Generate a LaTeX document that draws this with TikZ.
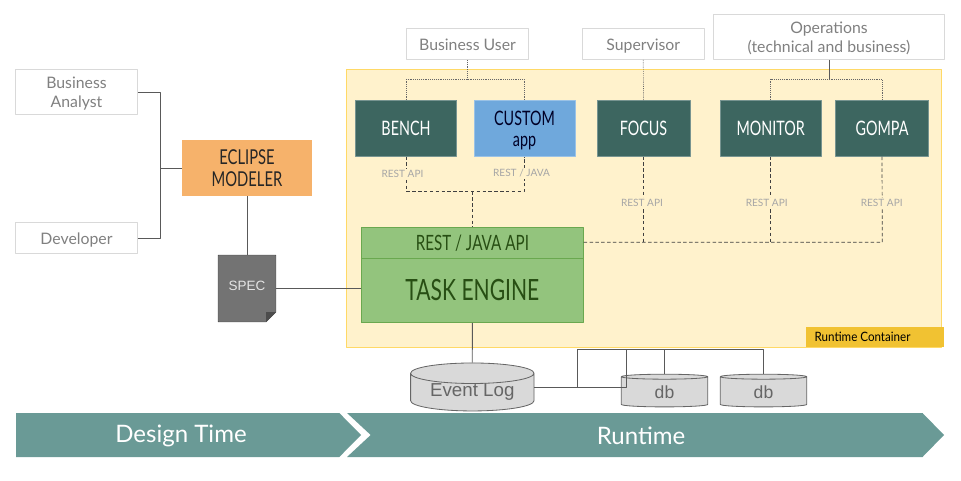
\documentclass[tikz,border=0pt]{standalone}
\usepackage{fontspec}
\usetikzlibrary{shapes.geometric}
\setmainfont{Lato}
\newfontfamily\condfont[FakeStretch=0.72]{Lato}
\newfontfamily\tagfont[FakeStretch=0.9]{Lato}
\newfontfamily\helvfont{Liberation Sans}
\definecolor{containerfill}{HTML}{FFF2CC}
\definecolor{containerline}{HTML}{FFD966}
\definecolor{appfill}{HTML}{3D6660}
\definecolor{barfill}{HTML}{6A9A96}
\definecolor{customfill}{HTML}{6FA8DC}
\definecolor{modelerfill}{HTML}{F6B26B}
\definecolor{enginefill}{HTML}{93C47D}
\definecolor{engineline}{HTML}{6AA84F}
\definecolor{enginetext}{HTML}{274E13}
\definecolor{tagfill}{HTML}{F1C232}
\definecolor{linegray}{HTML}{595959}
\begin{document}
\begin{tikzpicture}[x=0.03cm, y=-0.03cm, line join=round, inner sep=0pt, align=center,
		actor/.style={draw=black!15, line width=0.8pt, fill=white, text=black!50, text height=12.6pt, text depth=2pt, font=\fontsize{13.5}{16}\selectfont},
		twoline/.style={text height=28pt, text depth=2pt},
		app/.style={draw=appfill!70!white, fill=appfill, text=white, minimum width=#1*0.03cm, minimum height=56*0.03cm, font=\condfont\fontsize{17}{20}\selectfont},
		restlabel/.style={fill=containerfill, inner sep=1pt, text=black!35, font=\fontsize{8.6}{10}\selectfont},
		store/.style={cylinder, shape border rotate=90, draw=black!60, line width=0.7pt, fill=black!15, cylinder uses custom fill, cylinder body fill=black!15, cylinder end fill=black!15, text=black!60, font=\helvfont\fontsize{#1}{#1}\selectfont},
		conn/.style={draw=linegray, line width=0.7pt},
		dotline/.style={draw=black!60, line width=0.6pt, densely dotted},
		dashline/.style={draw=black!75, line width=0.6pt, dash pattern=on 3pt off 2pt}]
	\useasboundingbox (0,0) rectangle (961,480);
	
	\filldraw[draw=containerline, fill=containerfill, line width=0.7pt] (346.3,69.5) rectangle (941.7,347.3);
	\node[fill=tagfill, minimum width=138*0.03cm, minimum height=20*0.03cm, font=\tagfont\fontsize{11}{13}\selectfont] (tag) at (874.7,337) {Runtime Container\hspace{20.7pt}};
	
	\node[actor, minimum width=122*0.03cm, minimum height=31*0.03cm] (user) at (467.5,44) {Business User};
	\node[actor, minimum width=122*0.03cm, minimum height=31*0.03cm] (supervisor) at (643.3,44) {Supervisor};
	\node[actor, twoline, minimum width=231*0.03cm, minimum height=45*0.03cm] (ops) at (829,37) {Operations\\(technical and business)};
	\node[actor, twoline, minimum width=122*0.03cm, minimum height=45*0.03cm] (analyst) at (76.5,92) {Business\\Analyst};
	\node[actor, minimum width=122*0.03cm, minimum height=31*0.03cm] (dev) at (76.5,238) {Developer};
	
	\node[app=101] (bench) at (406,128.3) {BENCH};
	\node[app=101, draw=customfill!70!white, fill=customfill, text=black!85!blue, text height=34.5pt, text depth=3pt] (custom) at (524.5,128.3) {CUSTOM\\[-1.5pt]app};
	\node[app=93] (focus) at (643.5,128.3) {FOCUS};
	\node[app=101] (monitor) at (770.7,128.3) {MONITOR};
	\node[app=93] (gompa) at (882,128.3) {GOMPA};
	
	\node[fill=modelerfill, minimum width=130*0.03cm, minimum height=56*0.03cm, text=black!85, font=\condfont\fontsize{17.5}{18.7}\selectfont] (modeler) at (247,168) {ECLIPSE\\MODELER};
	
	\node[draw=engineline, fill=enginefill, minimum width=222*0.03cm, minimum height=31.2*0.03cm, text=enginetext, font=\condfont\fontsize{18}{20}\selectfont] (api) at (472.4,242.9) {REST / JAVA API};
	\node[draw=engineline, fill=enginefill, minimum width=222*0.03cm, minimum height=64.2*0.03cm, text=enginetext, font=\condfont\fontsize{25}{28}\selectfont] (engine) at (472.4,290.6) {\raisebox{1.5pt}{TASK ENGINE}};
	
	\draw[draw=black!70, fill=black!55, line width=0.7pt] (218.3,255.3) -- (275.7,255.3) -- (275.7,312.2) -- (266.2,321.7) -- (218.3,321.7) -- cycle;
	\fill[black!70] (275.7,312.2) -- (266.2,312.2) -- (266.2,321.7) -- cycle;
	\node[minimum width=57*0.03cm, minimum height=66*0.03cm, text=white!90!black, font=\helvfont\fontsize{11.5}{13}\selectfont] (spec) at (247,288.5) {\raisebox{5pt}{SPEC}};
	
	\node[store=16, minimum width=123.4*0.03cm, minimum height=45*0.03cm, shape aspect=0.243] (log) at (472.3,392.3) {\raisebox{-1.7pt}{Event Log}};
	\node[store=15, minimum width=86.4*0.03cm, minimum height=32.7*0.03cm, shape aspect=0.255] (dbA) at (664.5,392) {\raisebox{-2pt}{db}};
	\node[store=15, minimum width=86.4*0.03cm, minimum height=32.7*0.03cm, shape aspect=0.255] (dbB) at (763.5,392) {\raisebox{-2pt}{db}};
	
	\coordinate (userjoin) at (467.5,79.3);
	\coordinate (opsjoin) at (829,79.3);
	\coordinate (appjoin) at (472.5,191.3);
	\coordinate (busjoin) at (882.3,242.3);
	\coordinate (join) at (160.5,168);
	\coordinate (dbjoin) at (577.3,349.3);
	\coordinate (dbleft) at (626.3,349.3);
	\coordinate (logjoin) at (577.3,387.3);
	
	\draw[dotline] (bench.north) |- (userjoin) -| (custom.north);
	\draw[dotline] (user.south) -- (userjoin);
	\draw[dotline] (supervisor.south) -- (focus.north);
	\draw[dotline] (monitor.north) |- (opsjoin) -| (gompa.north);
	\draw[conn] (ops.south) -- (opsjoin);
	
	\draw[dashline] (bench.south) |- (appjoin) -| (custom.south);
	\draw[dashline] (appjoin) -- (api.north -| appjoin);
	\draw[dashline] (api.east |- busjoin) -- (busjoin) -- (gompa.south);
	\draw[dashline] (focus.south) -- (focus.south |- busjoin);
	\draw[dashline] (monitor.south) -- (monitor.south |- busjoin);
	
	\node[restlabel] (restA) at (402.5,173.5) {REST API};
	\node[restlabel] (restB) at (521.5,173.5) {REST / JAVA};
	\node[restlabel] (restC) at (642,203.3) {REST API};
	\node[restlabel] (restD) at (766.7,203.3) {REST API};
	\node[restlabel] (restE) at (881.7,203.3) {REST API};
	
	\draw[conn] (analyst.east) -| (join);
	\draw[conn] (dev.east) -| (join);
	\draw[conn] (modeler.west) -- (join);
	\draw[conn] (modeler.south) -- (spec.north);
	\draw[conn] (spec.east) -- (spec.east -| engine.west);
	\draw[conn] (engine.south) -- (log.north);
	\draw[conn] (log.east |- logjoin) -- (logjoin) -- (dbjoin);
	\draw[conn] (logjoin) -| (dbleft) -- (dbjoin);
	\draw[conn] (dbleft) -| (dbA.north);
	\draw[conn] (dbleft) -| (dbB.north);
	
	\fill[barfill] (16,413) -- (339.3,413) -- (361,435) -- (339.3,457) -- (16,457) -- cycle;
	\fill[barfill] (347,413) -- (922.5,413) -- (944,435) -- (922.5,457) -- (347,457) -- (370.7,435) -- cycle;
	\node[text=white, font=\fontsize{20.5}{24}\selectfont] (design) at (181,435.5) {Design Time};
	\node[text=white, font=\fontsize{20.5}{24}\selectfont] (runtime) at (641,435.5) {Runtime};
\end{tikzpicture}
\end{document}
